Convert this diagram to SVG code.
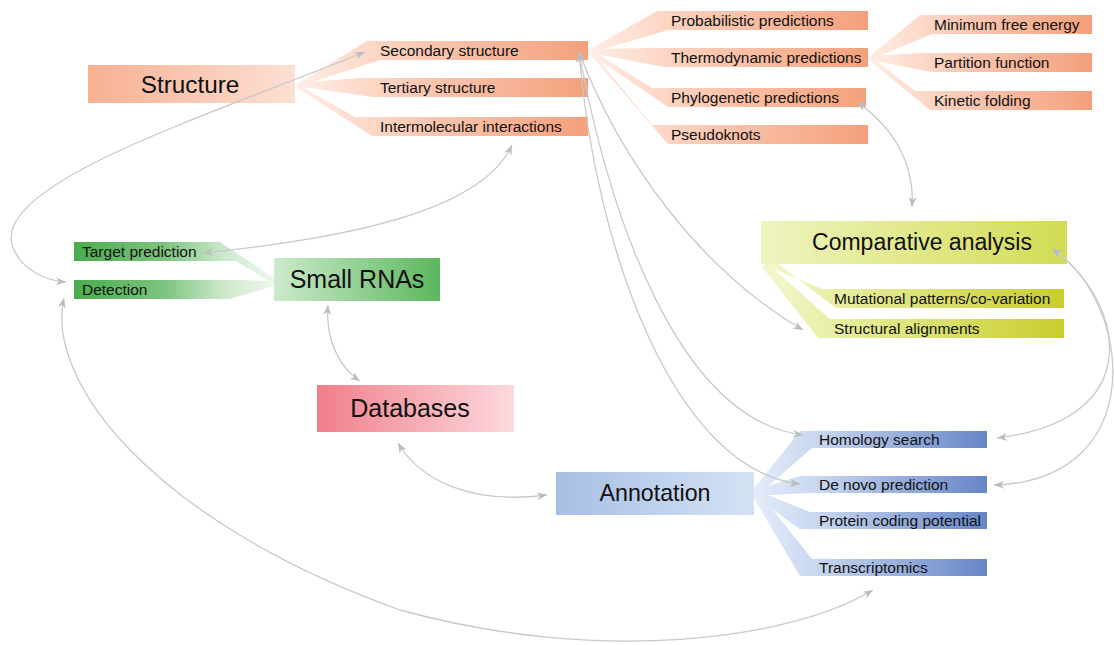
<svg xmlns="http://www.w3.org/2000/svg" width="1114" height="645" viewBox="0 0 1114 645">
<defs>
<linearGradient id="gStructMain" x1="0" y1="0" x2="1" y2="0"><stop offset="0" stop-color="#f7b092"/><stop offset="1" stop-color="#fde0d3"/></linearGradient>
<linearGradient id="gSalmon" x1="0" y1="0" x2="1" y2="0"><stop offset="0" stop-color="#ffeee6"/><stop offset="0.4" stop-color="#fbcab5"/><stop offset="1" stop-color="#f4a07b"/></linearGradient>
<linearGradient id="gYellowMain" x1="0" y1="0" x2="1" y2="0"><stop offset="0" stop-color="#eff4c0"/><stop offset="1" stop-color="#d2dc54"/></linearGradient>
<linearGradient id="gYellow" x1="0" y1="0" x2="1" y2="0"><stop offset="0" stop-color="#f4f7d2"/><stop offset="0.3" stop-color="#e6ec98"/><stop offset="1" stop-color="#c8cd2c"/></linearGradient>
<linearGradient id="gGreenMain" x1="0" y1="0" x2="1" y2="0"><stop offset="0" stop-color="#cdeacb"/><stop offset="1" stop-color="#5bb75d"/></linearGradient>
<linearGradient id="gGreen" x1="0" y1="0" x2="1" y2="0"><stop offset="0" stop-color="#48ac4c"/><stop offset="0.45" stop-color="#7cc47e"/><stop offset="0.75" stop-color="#cde9cd"/><stop offset="1" stop-color="#eef8ee"/></linearGradient>
<linearGradient id="gRed" x1="0" y1="0" x2="1" y2="0"><stop offset="0" stop-color="#f07f8b"/><stop offset="1" stop-color="#fdd9dd"/></linearGradient>
<linearGradient id="gBlueMain" x1="0" y1="0" x2="1" y2="0"><stop offset="0" stop-color="#a7bfe4"/><stop offset="1" stop-color="#d5e2f5"/></linearGradient>
<linearGradient id="gBlue" x1="0" y1="0" x2="1" y2="0"><stop offset="0" stop-color="#e6edf9"/><stop offset="0.3" stop-color="#c6d5ef"/><stop offset="1" stop-color="#6585c7"/></linearGradient>
<marker id="arr" viewBox="0 0 10 8" refX="10" refY="4" markerWidth="10" markerHeight="8" markerUnits="userSpaceOnUse" orient="auto-start-reverse"><path d="M0,0 L10,4 L0,8 L3,4 z" fill="#bdbdbd"/></marker>
<style>
.big{font-family:"Liberation Sans",Arial,sans-serif;fill:#111;text-anchor:middle}
.sm{font-family:"Liberation Sans",Arial,sans-serif;font-size:15.5px;fill:#111}
.con{fill:none;stroke:#c9c9c9;stroke-width:1.3;marker-start:url(#arr);marker-end:url(#arr)}
</style>
</defs>
<rect width="1114" height="645" fill="#fff"/>

<g id="structure">
<polygon points="297,84 367,41 588,41 588,60 380,60 297,87" fill="url(#gSalmon)"/>
<polygon points="297,83 360,78 588,78 588,97 372,97 297,86" fill="url(#gSalmon)"/>
<polygon points="297,84 355,117 588,117 588,136 372,136 297,88" fill="url(#gSalmon)"/>
<rect x="88" y="65" width="207" height="38" fill="url(#gStructMain)"/>
<text class="big" x="190" y="93" font-size="24.3">Structure</text>
<text class="sm" x="380" y="56">Secondary structure</text>
<text class="sm" x="380" y="93">Tertiary structure</text>
<text class="sm" x="380" y="132">Intermolecular interactions</text>
</g>

<g id="secondary-children">
<polygon points="590,49 657,11 868,11 868,30 668,30 590,53" fill="url(#gSalmon)"/>
<polygon points="590,49 655,48 868,48 868,67 664,67 590,53" fill="url(#gSalmon)"/>
<polygon points="590,49 652,88 866,88 866,107 668,107 590,54" fill="url(#gSalmon)"/>
<polygon points="590,49 652,125 868,125 868,144 668,144 590,54" fill="url(#gSalmon)"/>
<text class="sm" x="671" y="26">Probabilistic predictions</text>
<text class="sm" x="671" y="63">Thermodynamic predictions</text>
<text class="sm" x="671" y="103">Phylogenetic predictions</text>
<text class="sm" x="671" y="140">Pseudoknots</text>
</g>

<g id="thermo-children">
<polygon points="870,56 920,15 1092,15 1092,34 932,34 870,60" fill="url(#gSalmon)"/>
<polygon points="870,56 920,53 1092,53 1092,72 932,72 870,60" fill="url(#gSalmon)"/>
<polygon points="870,56 915,91 1092,91 1092,110 930,110 870,61" fill="url(#gSalmon)"/>
<text class="sm" x="934" y="30">Minimum free energy</text>
<text class="sm" x="934" y="68">Partition function</text>
<text class="sm" x="934" y="106">Kinetic folding</text>
</g>

<g id="comparative">
<polygon points="762,264 822,289 1064,289 1064,308 836,308 778,264" fill="url(#gYellow)"/>
<polygon points="768,264 830,319 1064,319 1064,338 818,338 762,267" fill="url(#gYellow)"/>
<rect x="761" y="221" width="306" height="43" fill="url(#gYellowMain)"/>
<text class="big" x="922" y="250" font-size="23">Comparative analysis</text>
<text class="sm" x="834" y="304">Mutational patterns/co-variation</text>
<text class="sm" x="834" y="334">Structural alignments</text>
</g>

<g id="small-rnas">
<polygon points="74,242 220,242 274,278 274,284 236,261 74,261" fill="url(#gGreen)"/>
<polygon points="74,280 240,280 274,281 274,286 230,299 74,299" fill="url(#gGreen)"/>
<rect x="274" y="258" width="166" height="43" fill="url(#gGreenMain)"/>
<text class="big" x="357" y="288" font-size="25">Small RNAs</text>
<text class="sm" x="82" y="257">Target prediction</text>
<text class="sm" x="82" y="295">Detection</text>
</g>

<g id="databases">
<rect x="317" y="385" width="197" height="47" fill="url(#gRed)"/>
<text class="big" x="410" y="417" font-size="25">Databases</text>
</g>

<g id="annotation">
<polygon points="752,491 800,431 987,431 987,448 812,448 758,495" fill="url(#gBlue)"/>
<polygon points="752,491 800,476 987,476 987,493 808,493 755,496" fill="url(#gBlue)"/>
<polygon points="755,490 810,512 987,512 987,529 800,529 752,495" fill="url(#gBlue)"/>
<polygon points="757,490 812,559 987,559 987,576 800,576 752,495" fill="url(#gBlue)"/>
<rect x="556" y="472" width="198" height="43" fill="url(#gBlueMain)"/>
<text class="big" x="655" y="501" font-size="23.2">Annotation</text>
<text class="sm" x="819" y="445">Homology search</text>
<text class="sm" x="819" y="490">De novo prediction</text>
<text class="sm" x="819" y="526">Protein coding potential</text>
<text class="sm" x="819" y="573">Transcriptomics</text>
</g>

<g id="connectors">
<path class="con" d="M66,282 C30,280 2,250 14,225 C40,170 200,118 365,52"/>
<path class="con" d="M64,298 C45,380 150,520 400,610 C600,665 790,640 873,590"/>
<path class="con" d="M203,253 C330,240 480,215 512,145"/>
<path class="con" d="M328,305 C325,340 340,368 360,381"/>
<path class="con" d="M398,443 C420,480 470,505 547,495"/>
<path class="con" d="M579,52 C620,160 700,270 803,330"/>
<path class="con" d="M579,52 C610,220 680,420 803,435"/>
<path class="con" d="M579,52 C595,250 675,470 800,484"/>
<path class="con" d="M857,102 C890,125 915,160 912,207"/>
<path class="con" d="M1052,249 C1125,300 1150,420 997,438"/>
<path class="con" d="M1052,249 C1132,300 1152,480 994,485"/>
</g>
</svg>
